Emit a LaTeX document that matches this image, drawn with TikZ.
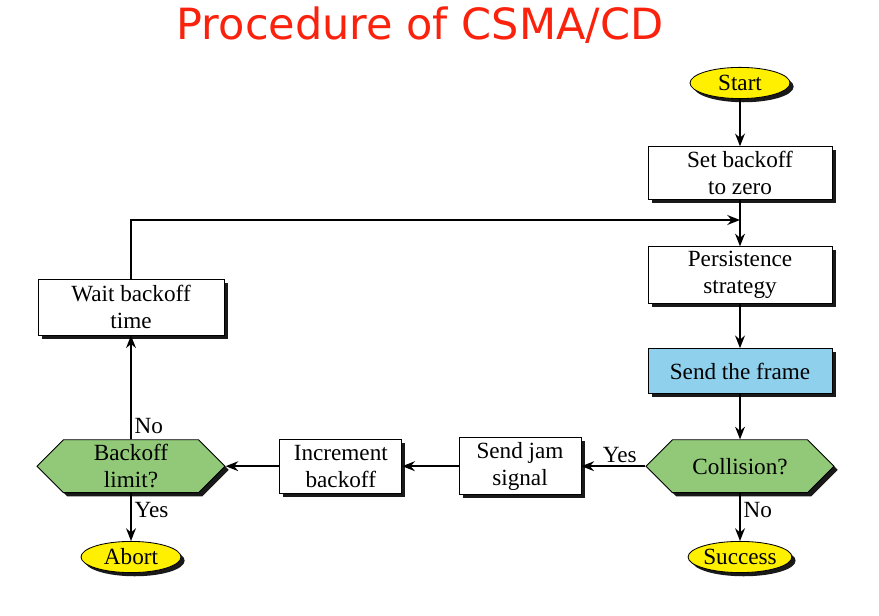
\documentclass[tikz,border=0pt]{standalone}
\usepackage{fontspec}
\setmainfont{Liberation Serif}
\newfontfamily\titlefont{DejaVu Sans}
\usetikzlibrary{arrows.meta,shapes.geometric,shapes.symbols,shadows}
\definecolor{titlered}{rgb}{0.98,0.13,0.05}
\definecolor{decgreen}{rgb}{0.57,0.79,0.47}
\definecolor{sendblue}{rgb}{0.56,0.82,0.93}
\definecolor{termyellow}{rgb}{1,0.94,0}
\tikzset{
    shade/.style={drop shadow={shadow xshift=2.6pt,shadow yshift=-2.6pt,fill=black,opacity=0.9}},
    stepbox/.style={draw=black,line width=0.6pt,fill=white,shade,rectangle,
        minimum width=4.6cm,minimum height=1.3cm,align=center,
        font=\fontsize{16.5}{19}\selectfont},
    smallbox/.style={stepbox,minimum width=3.05cm,minimum height=1.35cm},
    decision/.style={draw=black,line width=0.6pt,fill=decgreen,shade,shape=signal,
        signal to=east and west,signal pointer angle=90,
        minimum width=4.7cm,minimum height=1.32cm,align=center,inner xsep=0pt,
        font=\fontsize{16.5}{19}\selectfont},
    terminal/.style={draw=black,line width=0.6pt,fill=termyellow,shade,ellipse,
        minimum width=2.5cm,minimum height=0.78cm,inner sep=0pt,
        font=\fontsize{16.5}{19}\selectfont},
    arrow/.style={line width=1.2pt,-{Stealth[length=9pt,width=7pt]}},
    lbl/.style={font=\fontsize{16.5}{19}\selectfont,inner sep=2pt},
}

\begin{document}
\begin{tikzpicture}
\useasboundingbox (0,0) rectangle (21.975,15.375);
\node (title) at (10.5,14.75) {\titlefont\fontsize{30.6}{36}\selectfont\color{titlered}Procedure of CSMA/CD};
% right column
\node[terminal] (start) at (18.5,13.3) {Start};
\node[stepbox] (setzero) at (18.5,11.05) {Set backoff\\to zero};
\node[stepbox] (persist) at (18.5,8.5) {Persistence\\strategy};
\node[stepbox,fill=sendblue,minimum height=1.12cm] (send) at (18.5,6.1) {Send the frame};
\node[decision] (collide) at (18.5,3.72) {Collision?};
\node[terminal] (success) at (18.5,1.45) {Success};
% bottom row
\node[smallbox] (jam) at (13.0,3.72) {Send jam\\signal};
\node[smallbox] (incr) at (8.52,3.72) {Increment\\backoff};
% left column
\node[decision] (limit) at (3.275,3.72) {Backoff\\limit?};
\node[terminal] (abort) at (3.275,1.45) {Abort};
\node[stepbox,minimum width=4.65cm,minimum height=1.4cm] (wait) at (3.275,7.7) {Wait backoff\\time};
\coordinate (merge) at (18.5,9.875);

\draw[arrow] (start) -- (setzero);
\draw[arrow] (setzero) -- (persist);
\draw[arrow] (persist) -- (send);
\draw[arrow] (send) -- (collide);
\draw[arrow] (collide) -- node[lbl,right,pos=0.35] {No} (success);
\draw[arrow] (collide.west) -- node[lbl,above,pos=0.4] {Yes} (jam);
\draw[arrow] (jam) -- (incr);
\draw[arrow] (incr) -- (limit.east);
\draw[arrow] (limit) -- node[lbl,right,pos=0.35] {Yes} (abort);
\draw[arrow] (limit) -- node[lbl,right,pos=0.13] {No} (wait);
\draw[arrow] (wait.north) |- (merge);
\end{tikzpicture}
\end{document}
